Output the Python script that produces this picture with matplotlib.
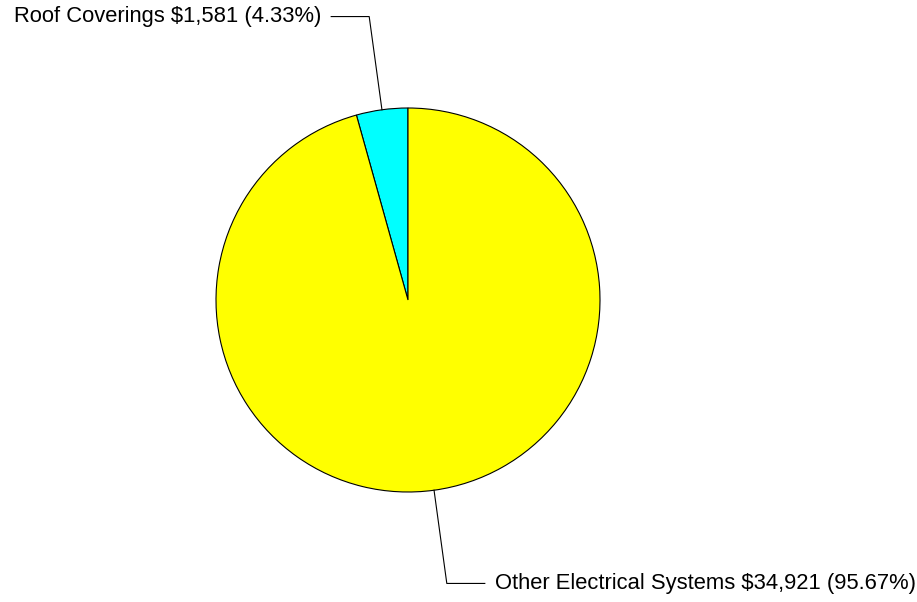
import numpy as np
import matplotlib.pyplot as plt

plt.rcParams['font.family'] = ['Liberation Sans', 'DejaVu Sans']

labels = ['Roof Coverings', 'Other Electrical Systems']
values = [1581, 34921]
percents = ['4.33%', '95.67%']
colors = ['#00FFFF', '#FFFF00']

fig = plt.figure(figsize=(9.17, 6.02), dpi=100)
ax = fig.add_axes([0, 0, 1, 1])

# pixel-like coordinates, y going up
cx, cy, r = 408, 302, 192
wedges, _ = ax.pie(values, colors=colors, startangle=90, counterclock=True,
                   center=(cx, cy), radius=r,
                   wedgeprops=dict(edgecolor='black', linewidth=0.8))
ax.set_xlim(0, 917)
ax.set_ylim(0, 602)
ax.set_aspect('equal')
ax.axis('off')

for w, lab, v, p in zip(wedges, labels, values, percents):
    mid = np.deg2rad((w.theta1 + w.theta2) / 2)
    dx, dy = np.cos(mid), np.sin(mid)
    x0, y0 = cx + r * dx, cy + r * dy
    x1, y1 = cx + 1.49 * r * dx, cy + 1.49 * r * dy
    side = 1 if dx >= 0 else -1
    x2 = x1 + side * 38
    ax.plot([x0, x1, x2], [y0, y1, y1], color='black', lw=0.8)
    ax.text(x2 + side * 10, y1, f'{lab} ${v:,} ({p})', fontsize=15.8,
            ha='left' if side > 0 else 'right', va='center')

fig.savefig('out.png', dpi=100)
